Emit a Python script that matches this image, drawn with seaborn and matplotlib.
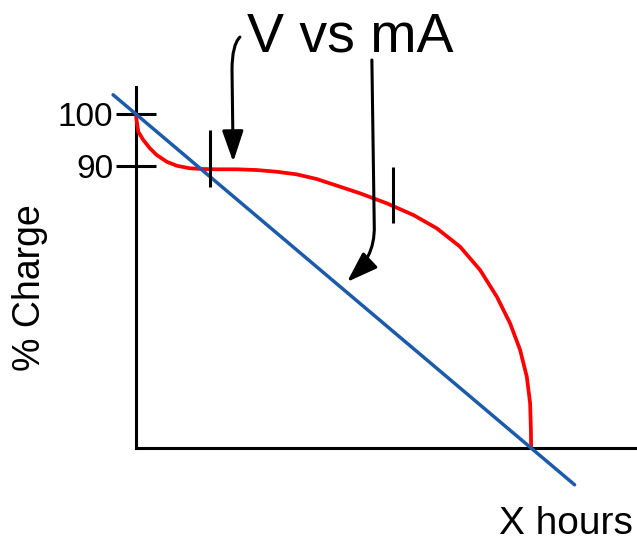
import numpy as np
import pandas as pd
import matplotlib
matplotlib.use('Agg')
import matplotlib.pyplot as plt
from matplotlib.path import Path
from matplotlib.patches import FancyArrowPatch
import seaborn as sns

# schematic discharge curves (x = fraction of X hours, y = % charge)
red_x = [0.0, 0.0013, 0.0058, 0.0185, 0.0354, 0.0524, 0.0777, 0.103, 0.1367,
         0.1704, 0.2043, 0.2549, 0.3056, 0.3562, 0.4068, 0.4575, 0.5165,
         0.5671, 0.6347, 0.702, 0.7613, 0.8203, 0.8709, 0.9132, 0.9468,
         0.9722, 0.9891, 0.9975, 0.9995, 1.0]
red_y = [100.0, 98.85, 96.6, 95.0, 93.4, 92.12, 90.83, 90.06, 89.56,
         89.42, 89.37, 89.37, 89.23, 88.9, 88.4, 87.5, 86.02,
         84.75, 82.83, 80.58, 78.02, 74.48, 70.0, 64.87, 59.75,
         54.62, 49.48, 44.37, 39.23, 35.77]
blue_x = [-0.058, 1.11]
blue_y = [103.7, 28.7]

# small vertical markers on the curves
marks_x = [0.187, 0.651]
marks_lo = [86.0, 79.0]
marks_hi = [96.9, 89.8]

ytick_vals = [90, 100]
ytick_labels = ['90', '100']

# arrow paths pointing from the title
arrow1 = [(0.263, 114.8), (0.243, 113.3), (0.243, 108.5), (0.246, 90.8)]
arrow1_codes = [Path.MOVETO, Path.CURVE3, Path.CURVE3, Path.LINETO]
arrow2 = [(0.597, 110.4), (0.603, 78.6), (0.605, 73.9), (0.580, 71.0), (0.534, 67.7)]
arrow2_codes = [Path.MOVETO, Path.LINETO, Path.CURVE4, Path.CURVE4, Path.CURVE4]

sns.set_style('white')
plt.rcParams['font.family'] = ['Liberation Sans', 'DejaVu Sans']

fig = plt.figure(figsize=(6.37, 5.41), dpi=100)
ax = fig.add_axes([0.2135, 0.1719, 0.7865, 0.6673])

red = pd.DataFrame({'x': red_x, 'y': red_y})
blue = pd.DataFrame({'x': blue_x, 'y': blue_y})
sns.lineplot(data=red, x='x', y='y', color='#ff0000', linewidth=2.7,
             sort=False, estimator=None, ax=ax, zorder=3)
sns.lineplot(data=blue, x='x', y='y', color='#1c5bab', linewidth=2.5,
             sort=False, estimator=None, ax=ax, zorder=4)
for l in ax.get_lines():
    l.set_clip_on(False)
    l.set_solid_joinstyle('round')

ax.vlines(marks_x, marks_lo, marks_hi, color='black', linewidth=2.2, zorder=5)

ax.set_xlim(0, 1.268)
ax.set_ylim(35.77, 105.2)
ax.set_xticks([])
ax.set_yticks(ytick_vals)
ax.set_yticklabels(ytick_labels)
ax.tick_params(axis='y', left=True, direction='inout', length=28.8, width=2.2,
               labelsize=24, pad=2, colors='black')
ax.set_xlabel('')
ax.set_ylabel('')
for side in ['top', 'right']:
    ax.spines[side].set_visible(False)
for side in ['left', 'bottom']:
    ax.spines[side].set_linewidth(2.2)
    ax.spines[side].set_color('black')

for pts, codes in [(arrow1, arrow1_codes), (arrow2, arrow2_codes)]:
    arr = FancyArrowPatch(path=Path(pts, codes),
                          arrowstyle='-|>,head_length=1.9,head_width=0.65',
                          mutation_scale=10, color='black', linewidth=2.2,
                          shrinkA=0, shrinkB=0, clip_on=False, zorder=6)
    ax.add_patch(arr)

fig.text(350 / 637, 1 - 52 / 541, 'V vs mA', fontsize=40, color='black',
         ha='center', va='baseline')
fig.text(633 / 637, 1 - 534 / 541, 'X hours', fontsize=28, color='black',
         ha='right', va='baseline')
fig.text(30 / 637, 1 - 288 / 541, '% Charge', fontsize=27, color='black',
         rotation=90, ha='center', va='center')

fig.savefig('out.png', dpi=100)
